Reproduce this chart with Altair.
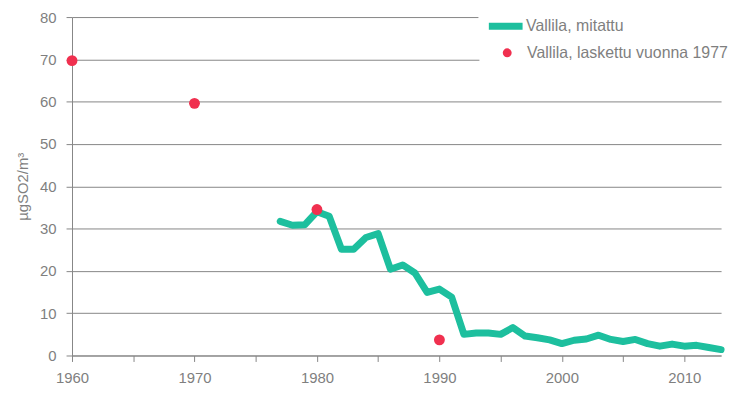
import altair as alt
import pandas as pd

# Measured series (Vallila, mitattu)
years_measured = [1977, 1978, 1979, 1980, 1981, 1982, 1983, 1984, 1985, 1986,
                  1987, 1988, 1989, 1990, 1991, 1992, 1993, 1994, 1995, 1996,
                  1997, 1998, 1999, 2000, 2001, 2002, 2003, 2004, 2005, 2006,
                  2007, 2008, 2009, 2010, 2011, 2012, 2013]
values_measured = [31.7, 30.8, 30.9, 34.0, 32.9, 25.1, 25.1, 27.9, 28.8, 20.4,
                   21.4, 19.5, 14.9, 15.7, 13.8, 5.0, 5.3, 5.3, 5.0, 6.6,
                   4.6, 4.2, 3.7, 2.8, 3.6, 3.9, 4.8, 3.8, 3.3, 3.8,
                   2.8, 2.2, 2.7, 2.2, 2.4, 1.9, 1.4]

# Calculated points (Vallila, laskettu vuonna 1977)
years_calc = [1960, 1970, 1980, 1990]
values_calc = [69.7, 59.6, 34.5, 3.7]

label_measured = "Vallila, mitattu"
label_calc = "Vallila, laskettu vuonna 1977"

x_ticks = list(range(1960, 2015, 5))
y_ticks = list(range(0, 90, 10))

TEAL = "#1dbf9e"
RED = "#f0304f"
GRID = "#868686"
TEXT = "#7f7f7f"
FONT = "Liberation Sans"

df_line = pd.DataFrame({"year": years_measured, "value": values_measured,
                        "series": [label_measured] * len(years_measured)})
df_pts = pd.DataFrame({"year": years_calc, "value": values_calc,
                       "series": [label_calc] * len(years_calc)})

x_enc = alt.X("year:Q",
              scale=alt.Scale(domain=[1960, 2013], nice=False, zero=False),
              axis=alt.Axis(values=x_ticks, format="d", grid=False,
                            labelExpr="datum.value % 10 == 0 ? datum.label : ''",
                            labelFlush=False, labelOverlap=False,
                            tickSize=6, labelPadding=9, title=None))
y_enc = alt.Y("value:Q",
              scale=alt.Scale(domain=[0, 80], nice=False),
              axis=alt.Axis(values=y_ticks, grid=True, tickSize=6,
                            labelFlush=False,
                            labelPadding=10, title="µgSO2/m³",
                            titlePadding=9))

line = alt.Chart(df_line).mark_line(
    strokeWidth=7, strokeCap="round", strokeJoin="round"
).encode(
    x=x_enc,
    y=y_enc,
    stroke=alt.Stroke("series:N",
                      scale=alt.Scale(domain=[label_measured], range=[TEAL]),
                      legend=alt.Legend(orient="none", legendX=409.5, legendY=-5.7,
                                        title=None, fillColor="white", padding=7,
                                        clipHeight=16, symbolType="stroke",
                                        symbolSize=1156, symbolStrokeWidth=7,
                                        labelOffset=0, labelLimit=400,
                                        labelFont=FONT, zindex=2,
                                        labelFontSize=16, labelColor=TEXT)),
)

points = alt.Chart(df_pts).mark_point(filled=True, size=120, opacity=1).encode(
    x="year:Q",
    y="value:Q",
    fill=alt.Fill("series:N",
                  scale=alt.Scale(domain=[label_calc], range=[RED]),
                  legend=alt.Legend(orient="none", legendX=410.5, legendY=-2,
                                    title=None, fillColor="white", padding=20,
                                    clipHeight=36, symbolType="circle",
                                    symbolSize=80, symbolStrokeWidth=0,
                                    symbolOffset=0, labelOffset=12,
                                    labelLimit=400, zindex=1,
                                    labelFont=FONT, labelFontSize=16,
                                    labelColor=TEXT)),
)

chart = alt.layer(line, points).properties(
    width=654, height=341,
    autosize=alt.AutoSizeParams(type="none"),
    padding={"left": 64.5, "top": 7.7, "right": 10, "bottom": 30},
).configure_view(stroke=None).configure_axis(
    domainColor=GRID, tickColor=GRID, gridColor=GRID,
    labelColor=TEXT, labelFont=FONT, labelFontSize=15,
    titleColor=TEXT, titleFont=FONT, titleFontSize=15, titleFontWeight="normal",
)

chart.save("out.html", embed_options={"renderer": "svg", "actions": False})
